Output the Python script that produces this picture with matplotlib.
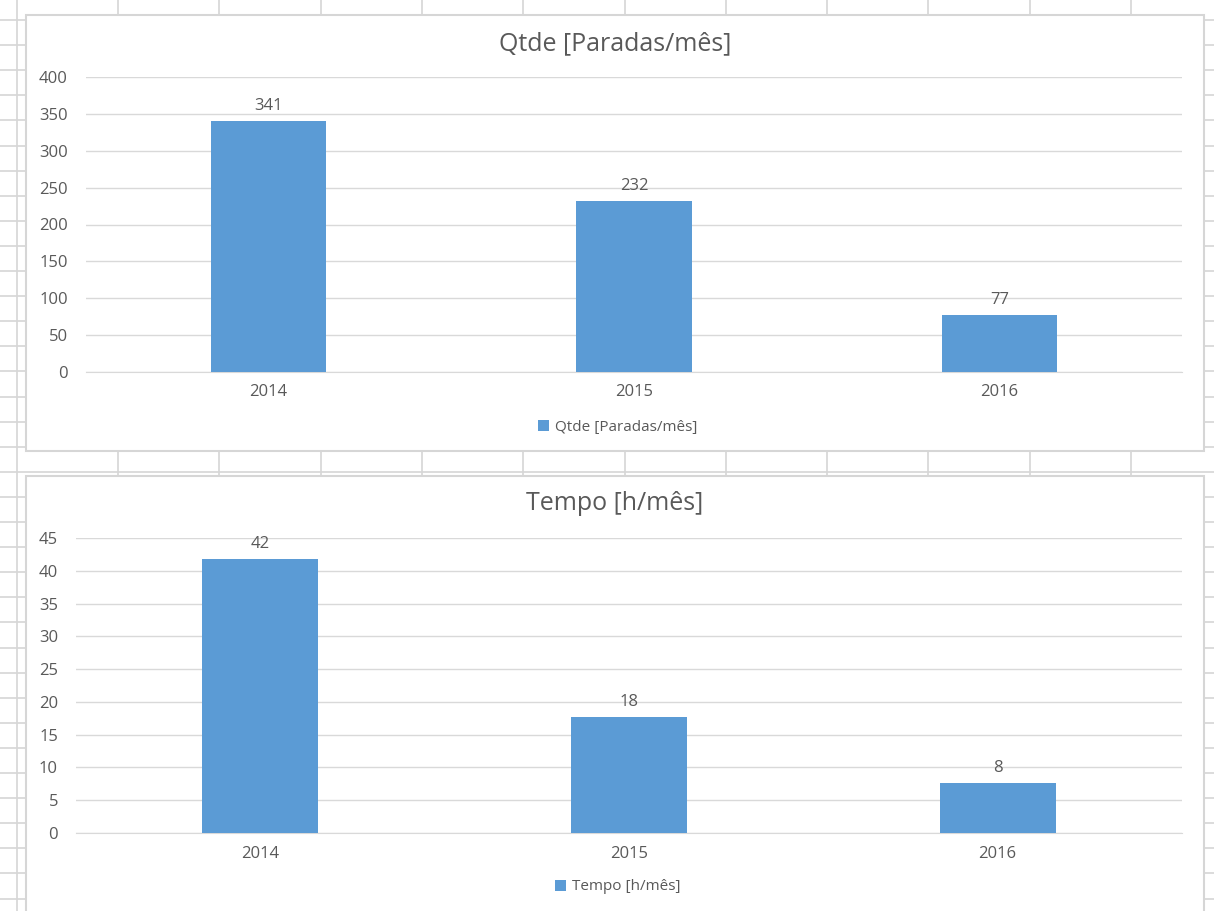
import matplotlib
matplotlib.use("Agg")
import matplotlib.pyplot as plt
from matplotlib.patches import Rectangle
from matplotlib.lines import Line2D

# data
years = ["2014", "2015", "2016"]
paradas = [341, 232, 77]
tempo = [41.8, 17.7, 7.7]

W, H = 1214, 911
BAR = "#5B9BD5"
TXT = "#595959"
GRID = "#D9D9D9"
SHEET = "#D6D6D6"

plt.rcParams["font.family"] = ["Open Sans", "DejaVu Sans"]

fig = plt.figure(figsize=(W / 100, H / 100), dpi=100)
fig.patch.set_facecolor("white")


def fx(px):
    return px / W


def fy(py):
    return 1 - py / H


# spreadsheet cells behind the charts
for x in [17] + [118 + 101.3 * i for i in range(11)]:
    fig.add_artist(Line2D([fx(x), fx(x)], [0, 1], color=SHEET, lw=1.2, zorder=-3))
for k in range(37):
    y = 20 + 25.1 * k
    fig.add_artist(Line2D([0, 1], [fy(y), fy(y)], color=SHEET, lw=1.2, zorder=-3))

# chart boxes
for top, bottom in [(15, 451), (476, 925)]:
    fig.add_artist(Rectangle((fx(26), fy(bottom)), fx(1204) - fx(26), fy(top) - fy(bottom),
                             facecolor="white", edgecolor=SHEET, lw=1.5, zorder=-1))


def chart(left, top, bottom, values, title, ymax, step, title_y, leg_y, fmt):
    ax = fig.add_axes([fx(left), fy(bottom), fx(1182) - fx(left), fy(top) - fy(bottom)])
    ax.set_facecolor("none")
    x = range(len(years))
    bars = ax.bar(x, values, width=0.315, color=BAR, label=title, zorder=3)
    ax.set_xlim(-0.5, len(years) - 0.5)
    ax.set_ylim(0, ymax)
    ax.set_yticks(range(0, ymax + 1, step))
    ax.set_xticks(list(x), years)
    ax.grid(axis="y", color=GRID, lw=1, zorder=0)
    for s in ["top", "right", "left"]:
        ax.spines[s].set_visible(False)
    ax.spines["bottom"].set_color(GRID)
    ax.tick_params(axis="y", length=0, pad=13, labelsize=12, labelcolor=TXT)
    ax.tick_params(axis="x", length=0, pad=9, labelsize=12, labelcolor=TXT)
    ax.bar_label(bars, labels=[fmt(v) for v in values], padding=5,
                 fontsize=12, color=TXT)
    fig.text(fx(615), fy(title_y), title, ha="center", va="center",
             fontsize=18, color=TXT)
    ax.legend(loc="center", bbox_to_anchor=(fx(618), fy(leg_y)),
              bbox_transform=fig.transFigure, frameon=False, fontsize=11,
              labelcolor=TXT, handlelength=0.7, handleheight=0.7,
              handletextpad=0.4)
    return ax


chart(86, 77, 372, paradas, "Qtde [Paradas/mês]", 400, 50, 44, 427,
      lambda v: f"{v:.0f}")
chart(76, 538, 833, tempo, "Tempo [h/mês]", 45, 5, 504, 887,
      lambda v: f"{v:.0f}")

fig.savefig("out.png", dpi=100)
